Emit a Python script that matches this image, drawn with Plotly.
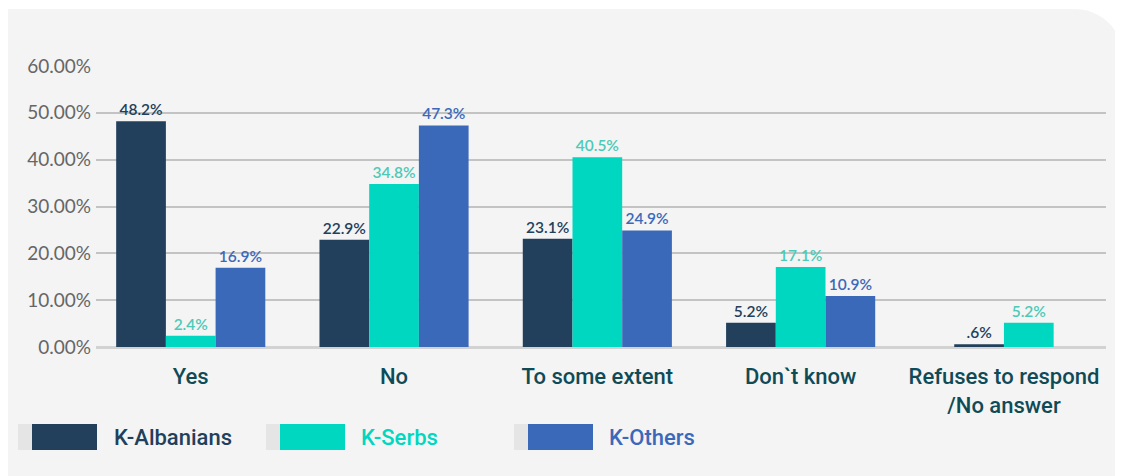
import plotly.graph_objects as go

# ---------------- data ----------------
categories = ["Yes", "No", "To some extent", "Don`t know", "Refuses to respond<br>/No answer"]
series_names = ["K-Albanians", "K-Serbs", "K-Others"]
albanians = [48.2, 22.9, 23.1, 5.2, 0.6]
serbs = [2.4, 34.8, 40.5, 17.1, 5.2]
others = [16.9, 47.3, 24.9, 10.9, None]
y_tick_values = [0, 10, 20, 30, 40, 50, 60]
y_tick_labels = ["0.00%", "10.00%", "20.00%", "30.00%", "40.00%", "50.00%", "60.00%"]

# ---------------- styling ----------------
bar_colors = ["#223f5b", "#00d7c0", "#3b69ba"]
label_colors = ["#223f5b", "#4ccab7", "#3b69ba"]
legend_text_colors = ["#223f5b", "#00d7c0", "#3b69ba"]
cat_font = "Roboto, sans-serif"
num_font = "Lato, Roboto, sans-serif"

OFF = 8  # page body margin
W, H = 1123 - OFF, 476 - OFF
L, R, T, B = 96 - OFF, 1106 - OFF, 66 - OFF, 347 - OFF  # plot area in figure px
BAR_W = 0.2445


def px_x(px):
    """page px -> paper x"""
    return (px - OFF - L) / (R - L)


def px_y(py):
    """page px -> paper y"""
    return (B - (py - OFF)) / (B - T)


def fmt(v):
    s = f"{v:.1f}%"
    return s[1:] if s.startswith("0.") else s


all_series = [albanians, serbs, others]

# per-category offsets so groups with missing series are centered
offsets = [[0] * len(categories) for _ in all_series]
for ci in range(len(categories)):
    present = [si for si, s in enumerate(all_series) if s[ci] is not None]
    n = len(present)
    for k, si in enumerate(present):
        offsets[si][ci] = (-n / 2 + k) * BAR_W

fig = go.Figure()
for si, (name, vals) in enumerate(zip(series_names, all_series)):
    fig.add_trace(go.Bar(
        x=list(range(len(categories))),
        y=vals,
        name=name,
        width=BAR_W,
        offset=offsets[si],
        marker=dict(color=bar_colors[si], line=dict(width=0)),
        text=[fmt(v) if v is not None else "" for v in vals],
        textposition="outside",
        textfont=dict(family=num_font, size=15.5, color=label_colors[si], weight=600),
        cliponaxis=False,
        showlegend=False,
    ))

# background panel with rounded top-right corner
x0, x1 = px_x(7), px_x(1123)
yt, yb = px_y(9), px_y(476)
rx, ry = 48 / (R - L), 48 / (B - T)
k = 0.448
path = (f"M {x0},{yb} L {x0},{yt} L {x1 - rx},{yt} "
        f"C {x1 - rx * k},{yt} {x1},{yt - ry * k} {x1},{yt - ry} "
        f"L {x1},{yb} Z")
shapes = [dict(type="path", xref="paper", yref="paper", path=path,
               fillcolor="#f4f4f4", line=dict(width=0), layer="below")]

# custom legend
annotations = []
legend_items = [(18, 112), (266, 359), (514, 607)]
for si, (gx, tx) in enumerate(legend_items):
    shapes.append(dict(type="rect", xref="paper", yref="paper",
                       x0=px_x(gx), x1=px_x(gx + 14), y0=px_y(450), y1=px_y(424),
                       fillcolor="#e5e5e5", line=dict(width=0), layer="above"))
    shapes.append(dict(type="rect", xref="paper", yref="paper",
                       x0=px_x(gx + 14), x1=px_x(gx + 79), y0=px_y(450), y1=px_y(424),
                       fillcolor=bar_colors[si], line=dict(width=0), layer="above"))
    annotations.append(dict(xref="paper", yref="paper", x=px_x(tx), y=px_y(437),
                            xanchor="left", yanchor="middle", showarrow=False,
                            text=series_names[si],
                            font=dict(family=cat_font, size=22, weight=500,
                                      color=legend_text_colors[si])))

fig.update_layout(
    width=W, height=H,
    margin=dict(l=L, r=W - R, t=T, b=H - B, pad=0),
    paper_bgcolor="white",
    plot_bgcolor="rgba(0,0,0,0)",
    barmode="overlay",
    shapes=shapes,
    annotations=annotations,
    xaxis=dict(
        range=[-0.466, 4.502],
        tickmode="array",
        tickvals=list(range(len(categories))),
        ticktext=categories,
        tickfont=dict(family=cat_font, size=22, weight=500, color="#0f4b57"),
        showgrid=False, zeroline=False, showline=False, ticks="",
        ticklabelstandoff=14,
        fixedrange=True,
    ),
    yaxis=dict(
        range=[0, 60],
        tickmode="array",
        tickvals=y_tick_values,
        ticktext=y_tick_labels,
        tickfont=dict(family=num_font, size=19, color="#666666"),
        showgrid=True, gridcolor="#c3c3c3", gridwidth=1.5,
        zeroline=True, zerolinecolor="#d2d2d2", zerolinewidth=2.5,
        showline=False, ticks="",
        ticklabelstandoff=4,
        fixedrange=True,
    ),
)

fig.write_html("out.html")
